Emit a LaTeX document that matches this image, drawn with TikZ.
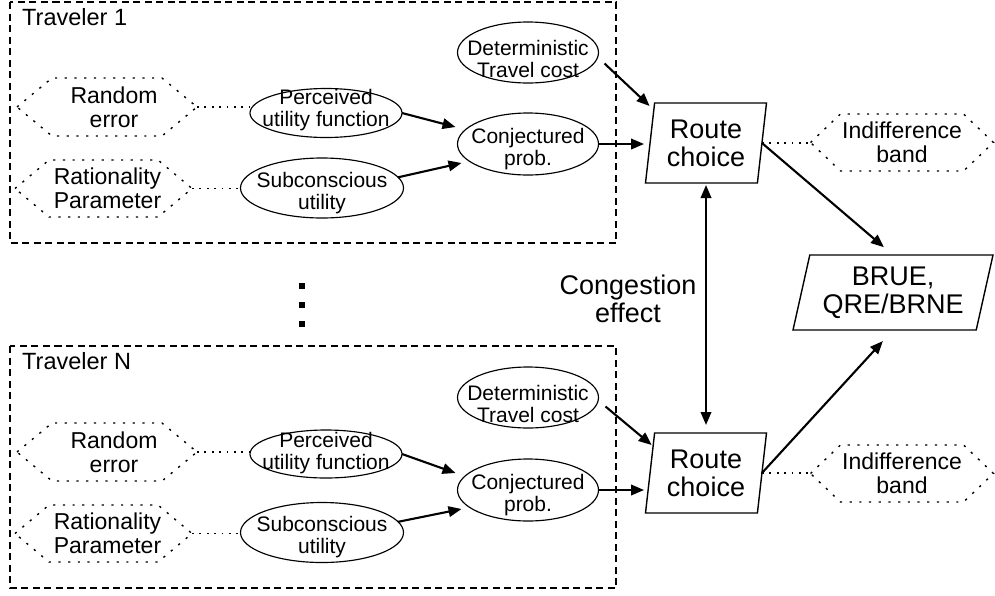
\documentclass[tikz,border=0pt]{standalone}
\usepackage{fontspec}
\setmainfont{Liberation Sans}
\usetikzlibrary{shapes.geometric,arrows.meta}

\tikzset{
  boxline/.style={line width=1.4pt, dash pattern=on 7pt off 4.5pt},
  hexline/.style={line width=1.4pt, dash pattern=on 2.2pt off 7.5pt},
  dotlink/.style={line width=1.6pt, dash pattern=on 1.8pt off 5.6pt},
  tip/.tip={Triangle[length=13pt,width=10.5pt]},
  arr/.style={line width=2.1pt, -tip},
  dblarr/.style={line width=2.1pt, tip-tip},
  oval/.style={ellipse, draw, line width=1.15pt, inner sep=0pt, outer sep=0pt},
  ovaltext/.style={align=center, font=\fontsize{21}{22}\selectfont, inner sep=0pt},
  hexframe/.style={rectangle, inner sep=0pt, outer sep=0pt},
  hextext/.style={align=center, inner sep=0pt, font=\fontsize{23}{24}\selectfont},
  para/.style={trapezium, draw, line width=1.4pt, trapezium stretches body,
    inner sep=0pt, outer sep=0pt, align=center, font=\fontsize{27}{28}\selectfont},
  bigtext/.style={align=center, font=\fontsize{27}{28}\selectfont, inner sep=0pt},
  travtitle/.style={font=\fontsize{23.5}{25}\selectfont, inner sep=0pt, anchor=base west},
}

% dotted hexagon: name, x, y, width, height, inset, text x-offset, text
\newcommand\hexnode[8]{%
  \node[hexframe, minimum width=#4pt, minimum height=#5pt] (#1) at (#2,#3) {};
  \node[hextext] (#1-t) at ({#2+#7},#3) {#8};
  \draw[hexline] (#1.west) -- ([xshift=#6pt]#1.north west)
    -- ([xshift=-#6pt]#1.north east) -- (#1.east)
    -- ([xshift=-#6pt]#1.south east) -- ([xshift=#6pt]#1.south west) -- cycle;}

% ellipse with its text: name, x, y, width, height, text y-offset, text
\newcommand\ovalnode[7]{%
  \node[oval, minimum width=#4pt, minimum height=#5pt] (#1) at (#2,#3) {};
  \node[ovaltext] (#1-t) at (#2,{#3+#6}) {#7};}

\begin{document}
\begin{tikzpicture}[x=1pt, y=-1pt]
\useasboundingbox (0,0) rectangle (995,595);

% ---------- Traveler 1 ----------
\draw[boxline] (10,2) rectangle (616,243);
\node[travtitle] (t1) at (22,25) {Traveler 1};

\hexnode{re1}{107}{107}{180}{58}{35}{7}{Random\\error}
\hexnode{rp1}{103.5}{188.5}{177}{57}{34}{4}{Rationality\\Parameter}
\ovalnode{pu1}{326}{113}{152}{49}{-3}{Perceived\\utility function}
\ovalnode{su1}{322}{188}{163}{60}{5}{Subconscious\\utility}
\ovalnode{dc1}{528}{52.5}{141}{61}{6}{Deterministic\\Travel cost}
\ovalnode{cp1}{528}{144}{141}{62}{5}{Conjectured\\prob.}

\node[para, trapezium left angle=79, trapezium right angle=101,
      minimum width=121pt, minimum height=80pt] (rc1) at (706,143) {Route\\choice};
\hexnode{ib1}{902}{142.5}{183}{57}{30}{0}{Indifference\\band}

\draw[dotlink] (re1.east) -- (re1.east -| pu1.west);
\draw[dotlink] (rp1.east) -- (rp1.east -| su1.west);
\draw[arr] (pu1.east) -- ([xshift=-2pt,yshift=17pt]cp1.west);
\draw[arr] (su1.8) -- ([xshift=4pt,yshift=-19pt]cp1.west);
\draw[arr] ([xshift=6pt,yshift=-11pt]dc1.east) -- ([xshift=-5pt,yshift=-3pt]rc1.top left corner);
\draw[arr, shorten >=6pt] (cp1.east) -- (cp1.east -| rc1.west);
\draw[dotlink] (rc1.east) -- (rc1.east -| ib1.west);

% ---------- vertical ellipsis ----------
\fill (299,283) rectangle (305,289);
\fill (299,302) rectangle (305,308);
\fill (299,321) rectangle (305,327);

% ---------- Traveler N ----------
\draw[boxline] (10,346) rectangle (616,588);
\node[travtitle] (tn) at (22,369) {Traveler N};

\hexnode{re2}{107}{452}{180}{58}{35}{7}{Random\\error}
\hexnode{rp2}{103.5}{533.5}{177}{57}{34}{4}{Rationality\\Parameter}
\ovalnode{pu2}{326}{454}{152}{48}{-1}{Perceived\\utility function}
\ovalnode{su2}{322}{532.5}{163}{60}{5}{Subconscious\\utility}
\ovalnode{dc2}{528}{397.5}{141}{61}{6}{Deterministic\\Travel cost}
\ovalnode{cp2}{528}{490}{141}{62}{5}{Conjectured\\prob.}

\node[para, trapezium left angle=79, trapezium right angle=101,
      minimum width=121pt, minimum height=80pt] (rc2) at (706,473) {Route\\choice};
\hexnode{ib2}{902}{473.5}{183}{57}{30}{0}{Indifference\\band}

\draw[dotlink] (re2.east) -- (re2.east -| pu2.west);
\draw[dotlink] (rp2.east) -- (rp2.east -| su2.west);
\draw[arr] (pu2.east) -- ([xshift=-2pt,yshift=17pt]cp2.west);
\draw[arr] (su2.8) -- ([xshift=4pt,yshift=-19pt]cp2.west);
\draw[arr] ([xshift=7pt,yshift=-9pt]dc2.east) -- ([xshift=-3pt,yshift=-12pt]rc2.top left corner);
\draw[arr, shorten >=6pt] (cp2.east) -- (cp2.east -| rc2.west);
\draw[dotlink] (rc2.east) -- (rc2.east -| ib2.west);

% ---------- equilibrium ----------
\node[para, trapezium left angle=72, trapezium right angle=108,
      minimum width=200pt, minimum height=75pt] (eq) at (893,292.5) {BRUE,\\QRE/BRNE};
\node[bigtext] (ce) at (628,299) {Congestion\\effect};

\draw[dblarr, shorten <=2pt, shorten >=8pt] (rc1.south) -- (rc2.north);
\draw[arr, shorten >=12pt] (rc1.east) -- (eq.north);
\draw[arr, shorten >=15pt] (rc2.east) -- (eq.south);
\end{tikzpicture}
\end{document}
